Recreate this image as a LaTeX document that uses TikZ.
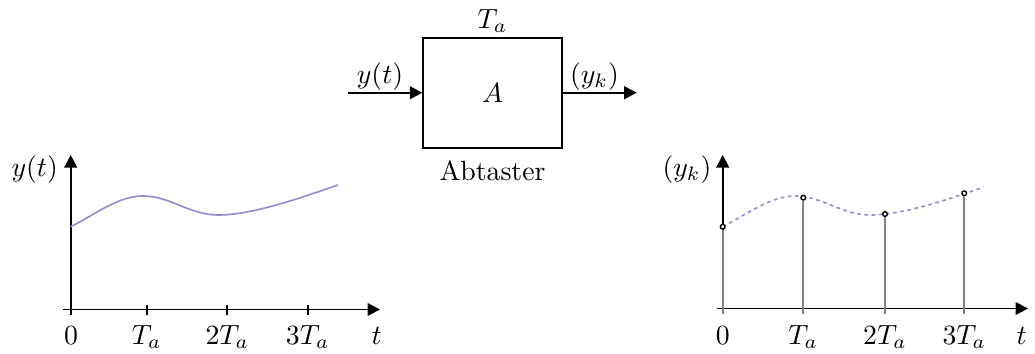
\documentclass[tikz,border=0pt]{standalone}
\usetikzlibrary{arrows.meta}
\definecolor{curvecol}{RGB}{150,140,210}
\begin{document}
\begin{tikzpicture}[x=0.36pt,y=-0.36pt,
  axis/.style={line width=0.6pt,-{Triangle[length=4.5pt,width=4.6pt]}},
  conn/.style={line width=0.6pt,-{Triangle[length=4.5pt,width=4.6pt]}},
  tick/.style={line width=0.6pt},
  lbl/.style={anchor=base,inner sep=0pt},
  sig/.style={curvecol,line width=0.6pt},
  sigd/.style={curvecol,line width=0.6pt,dash pattern=on 1.3pt off 1.3pt},
  stem/.style={gray,line width=0.6pt},
  smp/.style={circle,draw=black,fill=white,line width=0.5pt,inner sep=0pt,minimum size=1.7pt}]
\useasboundingbox (0,0) rectangle (1035,353);
% block
\node[draw,line width=0.7pt,minimum width=49.8pt,minimum height=39.6pt,inner sep=0pt] (A) at (492.5,92.7) {$A$};
\coordinate (in) at (348,92.7);
\coordinate (out) at (636.7,92.7);
\draw[conn] (in) -- (A.west);
\draw[conn] (A.east) -- (out);
\node[lbl] (Ta) at (492.5,28) {$T_a$};
\node[lbl] (abt) at (492.5,180) {Abtaster};
\node[lbl] (inl) at (380,83) {$y(t)$};
\node[lbl] (outl) at (594.5,83) {$(y_k)$};
% left plot
\coordinate (lx0) at (63,309.5);
\coordinate (lx1) at (380,309.5);
\coordinate (ly0) at (70.7,314.5);
\coordinate (ly1) at (70.7,155);
\draw[axis] (lx0) -- (lx1);
\draw[axis] (ly0) -- (ly1);
\foreach \x/\n in {146.7/1,227.3/2,307.7/3}{
  \coordinate (lt\n a) at (\x,304.5);
  \coordinate (lt\n b) at (\x,314.5);
  \draw[tick] (lt\n a) -- (lt\n b);
}
\node[lbl] (l0) at (71,344) {$0$};
\node[lbl] (l1) at (146.7,344) {$T_a$};
\node[lbl] (l2) at (227.3,344) {$2T_a$};
\node[lbl] (l3) at (307.7,344) {$3T_a$};
\node[lbl] (lt) at (376.7,344) {$t$};
\node[lbl] (lyl) at (34.7,176.4) {$y(t)$};
\draw[sig] (70.7,226.7) .. controls (95,214.5) and (118,196) .. (143,196)
  .. controls (170,196) and (190,215) .. (218,215)
  .. controls (255,215) and (308,195) .. (338,185);
% right plot
\coordinate (rx0) at (716.7,308.5);
\coordinate (rx1) at (1028,308.5);
\coordinate (ry0) at (722.7,313.5);
\coordinate (ry1) at (722.7,155);
\draw[axis] (rx0) -- (rx1);
\draw[axis] (ry0) -- (ry1);
\begin{scope}
\clip (700,150) rectangle (983.5,260);
\draw[sigd] (722.7,226.7) .. controls (747,214.5) and (770,196) .. (795,196)
  .. controls (822,196) and (842,215) .. (870,215)
  .. controls (907,215) and (960,195) .. (990,185);
\end{scope}
\foreach \x/\y/\n in {722.7/226.7/0,803.3/197.7/1,885/214/2,964.3/193.3/3}{
  \coordinate (rb\n) at (\x,313.5);
  \node[smp] (c\n) at (\x,\y) {};
  \draw[stem] (rb\n) -- (c\n.south);
}
\node[lbl] (r0) at (722.7,344) {$0$};
\node[lbl] (r1) at (803.3,344) {$T_a$};
\node[lbl] (r2) at (885,344) {$2T_a$};
\node[lbl] (r3) at (964.3,344) {$3T_a$};
\node[lbl] (rt) at (1021.7,344) {$t$};
\node[lbl] (ryl) at (687,176) {$(y_k)$};
\end{tikzpicture}
\end{document}
